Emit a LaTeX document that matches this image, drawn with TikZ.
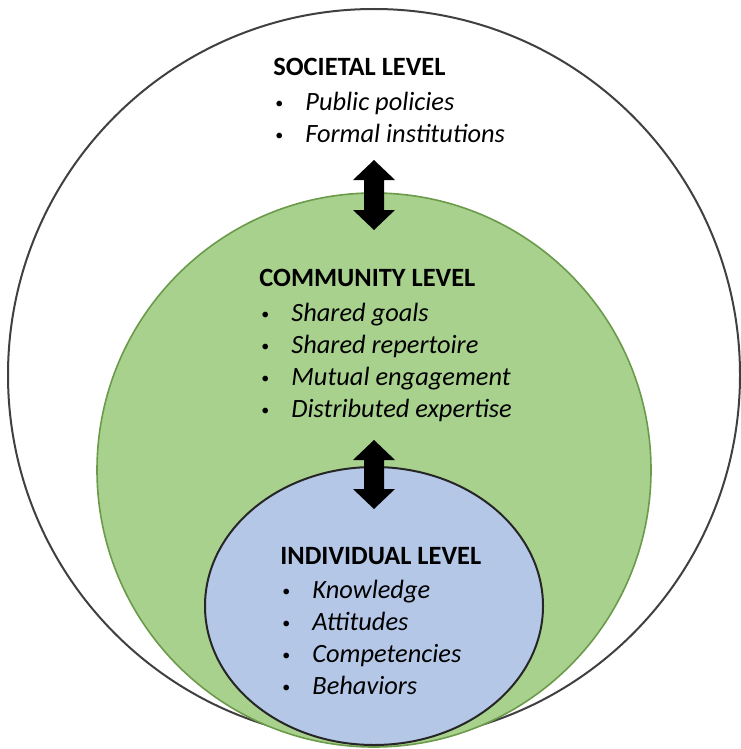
\documentclass[tikz,border=0pt]{standalone}
\usepackage{fontspec}
\setmainfont{Carlito}
\definecolor{commgreen}{HTML}{A9D18E}
\definecolor{commedge}{HTML}{6A9A4A}
\definecolor{indivblue}{HTML}{B4C7E7}
\newcommand{\itm}[1]{\hspace{1pt}\makebox[15pt][l]{\raisebox{1pt}{\fontsize{8}{8}\selectfont\textbullet}}\textit{#1}}
% block double arrow: centre x, top y, bottom y
\newcommand{\linkarrow}[3]{%
  \fill[black] (#1,#2) -- ++(21,20) -- ++(-11,0) -- (#1+10,#3-20) -- ++(11,0)
    -- (#1,#3) -- (#1-21,#3-20) -- ++(11,0) -- (#1-10,#2+20) -- ++(-11,0) -- cycle;}
\tikzset{
  leveltext/.style={anchor=north west, inner sep=0pt, align=left,
    font=\fontsize{13.2}{16}\selectfont}
}

\begin{document}
\begin{tikzpicture}[x=0.5pt, y=-0.5pt]
\useasboundingbox (0,0) rectangle (740,749);
\draw[line width=1pt, black!75] (374,375) circle[radius=183pt];
\draw[line width=0.8pt, draw=commedge, fill=commgreen] (374,470) circle[radius=138.5pt];
\draw[line width=1pt, draw=black!85, fill=indivblue] (374,606) ellipse[x radius=84.5pt, y radius=69.5pt];

\node[leveltext] (societal) at (273,58) {\textbf{SOCIETAL LEVEL}\\[1.5pt]
  \itm{Public policies}\\
  \itm{Formal institutions}};
\node[leveltext] (community) at (259,269) {\textbf{COMMUNITY LEVEL}\\[1.5pt]
  \itm{Shared goals}\\
  \itm{Shared repertoire}\\
  \itm{Mutual engagement}\\
  \itm{Distributed expertise}};
\node[leveltext] (individual) at (280,547) {\textbf{INDIVIDUAL LEVEL}\\[1pt]
  \itm{Knowledge}\\
  \itm{Attitudes}\\
  \itm{Competencies}\\
  \itm{Behaviors}};

\linkarrow{374}{160}{230}
\linkarrow{374}{440}{509}
\end{tikzpicture}
\end{document}
